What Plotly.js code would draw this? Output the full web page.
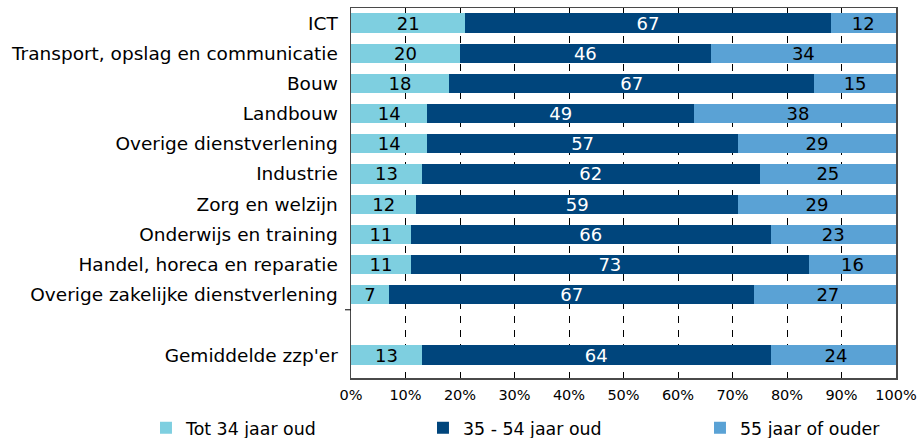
<!DOCTYPE html>
<html>
<head>
<meta charset="utf-8">
<script src="https://cdn.plot.ly/plotly-3.0.1.min.js"></script>
<style>html,body{margin:0;padding:0;background:#fff;}#chart{width:923px;height:438px;}</style>
</head>
<body>
<div id="chart"></div>
<script>
const categories = ["ICT", "Transport, opslag en communicatie", "Bouw", "Landbouw", "Overige dienstverlening", "Industrie", "Zorg en welzijn", "Onderwijs en training", "Handel, horeca en reparatie", "Overige zakelijke dienstverlening", "", "Gemiddelde zzp'er"];
const tot34 = [21, 20, 18, 14, 14, 13, 12, 11, 11, 7, null, 13];
const mid3554 = [67, 46, 67, 49, 57, 62, 59, 66, 73, 67, null, 64];
const older55 = [12, 34, 15, 38, 29, 25, 29, 23, 16, 27, null, 24];
const seriesNames = ["Tot 34 jaar oud", "35 - 54 jaar oud", "55 jaar of ouder"];
const xTicks = [0, 10, 20, 30, 40, 50, 60, 70, 80, 90, 100];
const xTickText = ["0%", "10%", "20%", "30%", "40%", "50%", "60%", "70%", "80%", "90%", "100%"];

const pos = categories.map((c, i) => i);
const colors = ["#7ecfe0", "#00457c", "#5aa2d5"];
const textColors = ["#000000", "#ffffff", "#000000"];
const FONT = "DejaVu Sans, Verdana, sans-serif";

const traces = [tot34, mid3554, older55].map((vals, k) => ({
  type: "bar",
  orientation: "h",
  name: seriesNames[k],
  y: pos,
  x: vals,
  text: vals.map(v => v == null ? "" : String(v)),
  textposition: "inside",
  insidetextanchor: "middle",
  textangle: 0,
  constraintext: "none",
  textfont: {family: FONT, size: 18, color: textColors[k]},
  marker: {color: colors[k], line: {width: 0}},
  width: 0.64,
  hoverinfo: "skip"
}));

const layout = {
  width: 923, height: 438,
  margin: {l: 351, r: 27, t: 8, b: 60, autoexpand: false},
  paper_bgcolor: "#ffffff",
  plot_bgcolor: "#ffffff",
  barmode: "stack",
  font: {family: FONT, size: 14, color: "#000000"},
  showlegend: true,
  legend: {
    orientation: "h",
    x: -0.3762, xanchor: "left",
    y: -0.135, yanchor: "middle",
    traceorder: "normal",
    entrywidth: 232,
    bgcolor: "rgba(0,0,0,0)",
    font: {family: FONT, size: 17.4, color: "#000000"}
  },
  xaxis: {
    range: [0, 100],
    tickvals: xTicks,
    ticktext: xTickText,
    tickfont: {family: FONT, size: 14.5, color: "#000000"},
    ticklabelstandoff: 3,
    showgrid: true,
    gridcolor: "#000000",
    gridwidth: 1,
    griddash: "7px,7px",
    zeroline: false,
    showline: true,
    mirror: true,
    linecolor: "#4a4a4a",
    linewidth: 1.5,
    ticks: "",
    automargin: false,
    fixedrange: true
  },
  yaxis: {
    range: [11.76, -0.5],
    tickvals: pos,
    ticktext: categories,
    tickfont: {family: FONT, size: 18.5, color: "#000000"},
    ticks: "",
    ticklabelstandoff: 8,
    showgrid: false,
    zeroline: false,
    showline: true,
    mirror: true,
    linecolor: "#4a4a4a",
    linewidth: 1.5,
    automargin: false,
    fixedrange: true
  },
  shapes: [{
    type: "line", xref: "paper", yref: "y",
    x0: -0.011, x1: 0, y0: 9.5, y1: 9.5,
    line: {color: "#000000", width: 1}
  }]
};

Plotly.newPlot("chart", traces, layout, {displayModeBar: false, staticPlot: true});
</script>
</body>
</html>
